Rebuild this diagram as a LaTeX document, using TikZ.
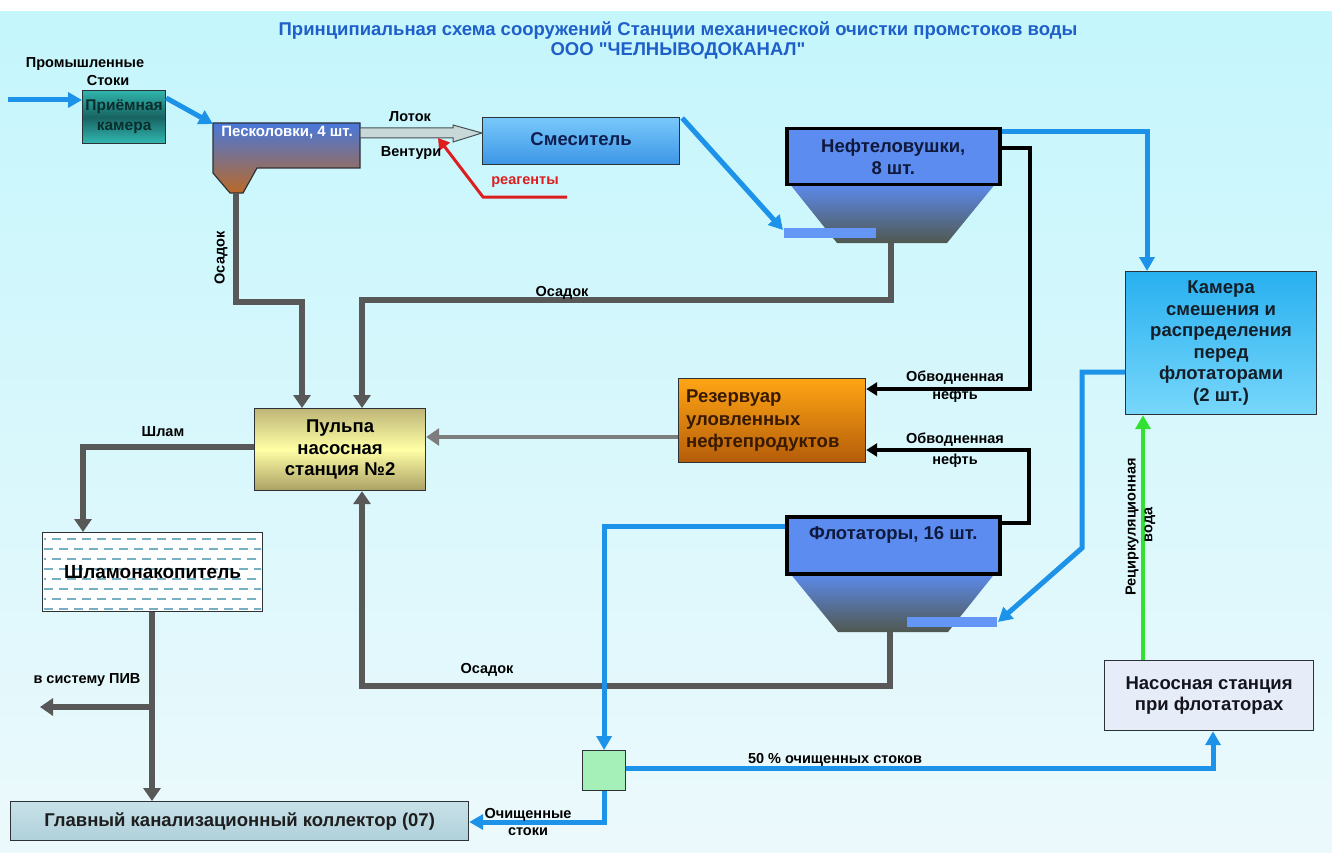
\documentclass[tikz,border=0pt]{standalone}
\usepackage{fontspec}
\setmainfont{Liberation Sans}[Ligatures=TeXOff]
\usetikzlibrary{arrows.meta,calc}

\definecolor{bgtop}{RGB}{196,246,252}
\definecolor{bgbot}{RGB}{236,249,252}
\definecolor{titleblue}{RGB}{30,95,200}
\definecolor{pipeblue}{RGB}{28,146,232}
\definecolor{pipegrey}{RGB}{88,88,88}
\definecolor{pipelight}{RGB}{125,125,125}
\definecolor{reagred}{RGB}{220,30,30}
\definecolor{recgreen}{RGB}{50,225,50}
\definecolor{edge}{RGB}{45,50,55}

\tikzset{
  lbl/.style={font=\bfseries\fontsize{14.5}{16}\selectfont, text=black, inner sep=0pt},
  boxtext/.style={font=\bfseries\fontsize{18.5}{21.5}\selectfont, align=center},
  unitbox/.style={draw=edge, line width=1.2pt, anchor=north west, inner sep=0pt, boxtext},
  tankbox/.style={draw=black, line width=3.5pt, anchor=north west, inner sep=0pt,
    fill={rgb,255:red,92;green,140;blue,240}, boxtext},
  bluepipe/.style={draw=pipeblue, line width=5pt},
  greypipe/.style={draw=pipegrey, line width=5.5pt},
  blackpipe/.style={draw=black, line width=4pt},
  btip/.style={-{Triangle[length=14pt,width=15pt]}},
  gtip/.style={-{Triangle[length=13pt,width=17pt]}},
  ktip/.style={-{Triangle[length=11pt,width=13pt]}},
}

\begin{document}
\begin{tikzpicture}[x=1pt,y=-1pt]
\useasboundingbox (0,0) rectangle (1332,853);
\fill[white] (0,0) rectangle (1332,853);
\shade[top color=bgtop, bottom color=bgbot] (0,12) rectangle (1332,853);

% ---------- title ----------
\node[font=\bfseries\fontsize{18.5}{20}\selectfont, text=titleblue, align=center] (title) at (678,40)
  {Принципиальная схема сооружений Станции механической очистки промстоков воды\\ООО "ЧЕЛНЫВОДОКАНАЛ"};

% ---------- units ----------
\node[unitbox, minimum width=83pt, minimum height=53pt,
  top color={rgb,255:red,48;green,180;blue,172}, bottom color={rgb,255:red,50;green,185;blue,178},
  middle color={rgb,255:red,24;green,100;blue,98},
  text={rgb,255:red,10;green,45;blue,45}, font=\bfseries\fontsize{15.5}{20}\selectfont] (priem) at (82,90) {Приёмная\\камера};

% grit chamber with its hopper
\shadedraw[draw=edge, line width=1.2pt, top color={rgb,255:red,72;green,120;blue,220},
  bottom color={rgb,255:red,185;green,105;blue,40}]
  (213,123) -- (360,123) -- (360,168) -- (257,168) -- (243,193) -- (230,193) -- (213,173) -- cycle;
\node[boxtext, text=white, font=\bfseries\fontsize{15}{16}\selectfont] (pesk) at (287,133) {Песколовки, 4 шт.};
\coordinate (peskin) at (213,124);
\coordinate (peskout) at (360,133);
\coordinate (peskbot) at (236,193);

\node[unitbox, minimum width=197pt, minimum height=47pt,
  top color={rgb,255:red,120;green,200;blue,250}, bottom color={rgb,255:red,60;green,150;blue,230},
  text={rgb,255:red,15;green,30;blue,80}] (smes) at (482,117) {\raisebox{5pt}{Смеситель}};

% oil traps
\shadedraw[draw=none, top color={rgb,255:red,92;green,140;blue,240},
  bottom color={rgb,255:red,80;green,88;blue,80}]
  (789,183) -- (996,183) -- (947,243) -- (837,243) -- cycle;
\node[tankbox, minimum width=213pt, minimum height=56pt, text={rgb,255:red,15;green,25;blue,60}] (neft) at (785,127) {Нефтеловушки,\\8 шт.};
\fill[fill={rgb,255:red,100;green,150;blue,245}] (784,228) rectangle (876,238);
\coordinate (neftbar) at (783,230);
\coordinate (neftbot) at (891,243);

% flotators
\shadedraw[draw=none, top color={rgb,255:red,92;green,140;blue,240},
  bottom color={rgb,255:red,80;green,88;blue,80}]
  (789,572) -- (996,572) -- (948,632) -- (838,632) -- cycle;
\node[tankbox, minimum width=213pt, minimum height=57pt, anchor=north west] (flot) at (785,515) {};
\node[boxtext, anchor=north, text={rgb,255:red,15;green,25;blue,60}] (flottext) at (flot.north) [yshift=-8pt] {Флотаторы, 16 шт.};
\fill[fill={rgb,255:red,100;green,150;blue,245}] (907,617) rectangle (997,627);
\coordinate (flotbar) at (998,622);
\coordinate (flotbot) at (890,632);

\node[unitbox, minimum width=191pt, minimum height=143pt,
  top color={rgb,255:red,40;green,176;blue,240}, bottom color={rgb,255:red,120;green,215;blue,250},
  text={rgb,255:red,20;green,30;blue,40}] (kam) at (1125,271)
  {Камера\\смешения и\\распределения\\перед\\флотаторами\\(2 шт.)};

\node[unitbox, minimum width=187pt, minimum height=84pt,
  top color={rgb,255:red,255;green,165;blue,20}, bottom color={rgb,255:red,180;green,92;blue,10},
  text={rgb,255:red,55;green,25;blue,0}, align=left, text width=172pt,
  font=\bfseries\fontsize{18.5}{22.5}\selectfont] (rez) at (678,378)
  {Резервуар\\уловленных\\нефтепродуктов};

\node[unitbox, minimum width=171pt, minimum height=82pt,
  top color={rgb,255:red,190;green,182;blue,120}, bottom color={rgb,255:red,170;green,160;blue,100},
  middle color={rgb,255:red,255;green,255;blue,165}, text=black] (pulp) at (254,408)
  {Пульпа\\насосная\\станция №2};

% sludge pond with water hatching
\node[unitbox, minimum width=220pt, minimum height=79pt, fill=white] (shlam) at (42,532) {};
\begin{scope}
  \clip (43,533) rectangle (261,610);
  \foreach \yy [count=\i] in {539,549,...,609} {
    \draw[draw={rgb,255:red,120;green,175;blue,195}, line width=1.1pt, dash pattern=on 9pt off 6pt,
      dash phase={mod(\i,2)*7pt}] (44,\yy) -- (262,\yy);
  }
\end{scope}
\node[font=\bfseries\fontsize{19}{20}\selectfont] (shlamtext) at (shlam.center) {Шламонакопитель};

\node[unitbox, minimum width=458pt, minimum height=39pt,
  top color={rgb,255:red,200;green,225;blue,232}, bottom color={rgb,255:red,175;green,208;blue,218},
  text={rgb,255:red,30;green,30;blue,30}, font=\bfseries\fontsize{18.5}{20}\selectfont] (koll) at (10,801)
  {Главный канализационный коллектор (07)};

\node[unitbox, minimum width=209pt, minimum height=70pt, fill={rgb,255:red,230;green,237;blue,248},
  text={rgb,255:red,20;green,20;blue,30}] (nas) at (1104,660) {Насосная станция\\при флотаторах};

\node[unitbox, minimum width=43pt, minimum height=40pt, fill={rgb,255:red,165;green,240;blue,185}] (split) at (582,750) {};

% ---------- connectors ----------
\coordinate (src) at (8,100);
\draw[bluepipe, btip] (src) -- (priem.west |- src);
\draw[bluepipe, btip] ($(priem.north east)+(0,8)$) -- (peskin);

% Venturi flume
\draw[draw={rgb,255:red,70;green,80;blue,85}, line width=1pt, fill={rgb,255:red,200;green,215;blue,215}]
  (peskout) ++(0,-5) -- (453,128) -- (453,125) -- (smes.west |- peskout) -- (453,142) -- (453,138) -- (360,138) -- cycle;

\coordinate (reag) at (567,197);
\draw[draw=reagred, line width=3pt, ktip] (reag) -- (483,197) -- (438,138);

\draw[bluepipe, btip] ($(smes.north east)+(2,1)$) -- (neftbar);
\draw[bluepipe, btip] (neft.east |- 0,132) -| (kam.north -| 1147,0);
\draw[blackpipe, ktip] (neft.east |- 0,148) -| (1030,389) -- (rez.east |- 0,389);
\draw[blackpipe, ktip] (flot.east |- 0,523) -| (1029,450) -- (rez.east |- 0,450);
\draw[draw=pipelight, line width=4.5pt, gtip] (rez.west |- 0,437) -- (pulp.east |- 0,437);

\draw[greypipe, gtip] (peskbot) -- (236,302) -| (pulp.north -| 302,0);
\draw[greypipe, gtip] (neftbot) -- (891,300) -| (pulp.north -| 362,0);
\draw[greypipe, gtip] (flotbot) -- (890,686) -| (pulp.south -| 362,0);
\draw[greypipe, gtip] (pulp.west |- 0,447) -| (shlam.north -| 83,0);
\draw[greypipe, gtip] (shlam.south -| 152,0) -- (koll.north -| 152,0);
\coordinate (piv) at (40,707);
\draw[greypipe, gtip] (152,707) -- (piv);

\draw[bluepipe, btip] (flot.west |- 0,526) -| (split.north);
\draw[bluepipe, btip] (split.south) |- (koll.east |- 0,822);
\draw[bluepipe, btip] (split.east |- 0,768) -| (nas.south -| 1213,0);
\draw[draw=recgreen, line width=4pt, btip] (nas.north -| 1143,0) -- (kam.south -| 1143,0);
\draw[bluepipe, btip] (kam.west |- 0,372) -- (1082,372) -- (1082,548) -- (flotbar);

% ---------- labels ----------
\node[lbl] (l1) at (85,64) {Промышленные};
\node[lbl] (l2) at (108,81) {Стоки};
\node[lbl, rotate=90] (l3) at (221,258) {Осадок};
\node[lbl] (l4) at (410,117) {Лоток};
\node[lbl] (l5) at (411,153) {Вентури};
\node[lbl, text=reagred] (l6) at (525,182) {реагенты};
\node[lbl] (l7) at (562,293) {Осадок};
\node[lbl] (l8) at (955,378) {Обводненная};
\node[lbl] (l9) at (955,396) {нефть};
\node[lbl] (l10) at (955,440) {Обводненная};
\node[lbl] (l11) at (955,461) {нефть};
\node[lbl] (l12) at (163,432) {Шлам};
\node[lbl] (l13) at (487,670) {Осадок};
\node[lbl] (l14) at (87,680) {в систему ПИВ};
\node[lbl] (l15) at (835,760) {50 \% очищенных стоков};
\node[lbl] (l16) at (528,815) {Очищенные};
\node[lbl] (l17) at (528,832) {стоки};
\node[lbl, rotate=90] (l18) at (1132,527) {Рециркуляционная};
\node[lbl, rotate=90] (l19) at (1150,525) {вода};
\end{tikzpicture}
\end{document}
